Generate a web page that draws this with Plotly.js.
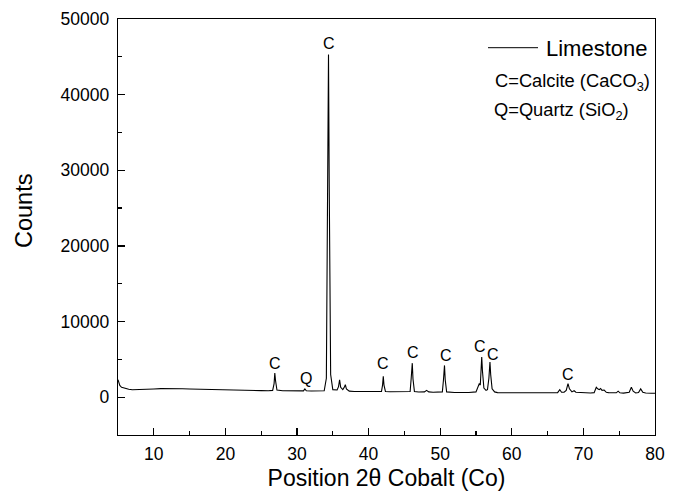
<!DOCTYPE html>
<html>
<head>
<meta charset="utf-8">
<script src="https://cdn.plot.ly/plotly-3.0.1.min.js"></script>
<style>html,body{margin:0;padding:0;background:#fff;}#chart{width:676px;height:495px;}</style>
</head>
<body>
<div id="chart"></div>
<script>
// 2θ positions (degrees) and intensities
const twoTheta = [5.0,5.1,5.25,5.5,6.0,6.5,7,8,9,10,11,12,13,14,15,16,17,18,19,20,21,22,23,24,25,26,
  26.6,26.8,26.9,27.0,27.2,28,29,30,30.9,31.1,31.3,32,33,33.8,34.1,34.3,34.4,34.5,34.7,35.0,
  35.6,35.8,35.95,36.1,36.4,36.6,36.75,36.9,37.3,38,39,40,41,41.8,41.95,42.05,42.15,42.35,43,44,45,
  45.8,45.95,46.1,46.2,46.4,47,47.8,48.1,48.4,49,50,50.3,50.45,50.6,50.7,50.9,52,53,54,
  55.0,55.3,55.45,55.6,55.7,55.8,55.9,56.1,56.4,56.6,56.8,56.95,57.05,57.25,57.6,58,59,60,62,64,66,
  66.4,66.7,66.95,67.3,67.6,67.85,68.05,68.4,68.7,68.95,69.5,70,71,71.5,71.8,72.0,72.2,72.4,72.6,72.9,
  73.2,73.5,74,74.6,74.85,75.1,75.6,76,76.4,76.7,76.95,77.3,77.7,78.0,78.3,78.7,79,79.5,80];
const counts = [2300,1850,1550,1300,1120,1040,990,1000,1020,1080,1130,1160,1150,1120,1080,1050,1020,990,960,940,920,900,890,880,870,860,
  900,1800,3200,2200,950,850,830,820,830,1100,840,810,800,850,2500,30000,45300,28000,3000,1000,
  950,1400,2300,1300,1000,1300,1650,1100,800,760,740,730,720,760,1600,2750,1600,760,710,700,690,
  750,2500,4500,2400,760,690,700,900,700,660,650,700,2200,4200,2300,700,620,610,620,
  700,1300,1770,1600,3000,5300,3500,1200,900,1000,2500,4650,3000,1100,700,600,580,580,570,570,570,
  600,980,650,650,900,1780,1100,700,850,650,600,580,560,600,1300,1100,1000,1150,900,950,
  650,600,560,580,800,580,540,550,650,1320,800,560,620,1100,650,560,520,520,520];

// Phase labels above the peaks
const peakX = [26.9, 31.2, 34.4, 42.05, 46.15, 50.75, 55.6, 57.4, 67.9];
const peakY = [4500, 2500, 46750, 4500, 5950, 5500, 6700, 5650, 3000];
const peakText = ['C','Q','C','C','C','C','C','C','C'];

const xTickVals = [10,20,30,40,50,60,70,80];
const yTickVals = [0,10000,20000,30000,40000,50000];
const yTickText = ['0','10000','20000','30000','40000','50000'];

const FONT = 'Liberation Sans, Arial, Helvetica, sans-serif';
const PL = 118, PR = 655, PT = 19, PB = 435;
const px = v => (v - PL) / (PR - PL);
const py = v => (PB - v) / (PB - PT);

const annotations = peakX.map((x, i) => ({
  x: x, y: peakY[i], xref: 'x', yref: 'y', text: peakText[i], showarrow: false,
  xanchor: 'center', yanchor: 'middle', font: {family: FONT, size: 16, color: '#000'}
}));
annotations.push(
  {xref: 'paper', yref: 'paper', x: px(544), y: py(48.5), text: 'Limestone', showarrow: false,
   xanchor: 'left', yanchor: 'middle', font: {family: FONT, size: 22, color: '#000'}},
  {xref: 'paper', yref: 'paper', x: px(493), y: py(82.5), text: 'C=Calcite (CaCO<sub>3</sub>)', showarrow: false,
   xanchor: 'left', yanchor: 'middle', font: {family: FONT, size: 18.3, color: '#000'}},
  {xref: 'paper', yref: 'paper', x: px(492), y: py(110.5), text: 'Q=Quartz (SiO<sub>2</sub>)', showarrow: false,
   xanchor: 'left', yanchor: 'middle', font: {family: FONT, size: 18.3, color: '#000'}},
  {xref: 'paper', yref: 'paper', x: px(24), y: py(211), text: 'Counts', showarrow: false, textangle: -90,
   xanchor: 'center', yanchor: 'middle', font: {family: FONT, size: 23.5, color: '#000'}}
);

const trace = {
  x: twoTheta, y: counts, type: 'scatter', mode: 'lines', name: 'Limestone',
  line: {color: '#000', width: 1.1}, showlegend: false
};

const layout = {
  width: 676, height: 495,
  margin: {l: PL, r: 676 - PR, t: PT, b: 495 - PB},
  paper_bgcolor: '#fff', plot_bgcolor: '#fff',
  font: {family: FONT, color: '#000'},
  showlegend: false,
  xaxis: {
    range: [5, 80], tickvals: xTickVals, ticks: 'inside', ticklen: 7, tickwidth: 1.3, tickcolor: '#000',
    minor: {dtick: 5, tick0: 5, ticks: 'inside', ticklen: 4, tickwidth: 1.3, tickcolor: '#000'},
    showline: true, linecolor: '#000', linewidth: 1.3, mirror: true, showgrid: false, zeroline: false,
    tickfont: {family: FONT, size: 17.5, color: '#000'}, ticklabelstandoff: 3,
    title: {text: 'Position 2θ Cobalt (Co)', font: {family: FONT, size: 23, color: '#000'}, standoff: 6}
  },
  yaxis: {
    range: [-5000, 50000], tickvals: yTickVals, ticktext: yTickText, ticks: 'inside', ticklen: 7, tickwidth: 1.3, tickcolor: '#000',
    minor: {dtick: 5000, tick0: 0, ticks: 'inside', ticklen: 4, tickwidth: 1.3, tickcolor: '#000'},
    showline: true, linecolor: '#000', linewidth: 1.3, mirror: true, showgrid: false, zeroline: false,
    tickfont: {family: FONT, size: 17.5, color: '#000'}, ticklabelstandoff: 4
  },
  shapes: [
    {type: 'line', xref: 'paper', yref: 'paper', x0: px(488), x1: px(538),
     y0: py(47.7), y1: py(47.7), line: {color: '#000', width: 1}}
  ],
  annotations: annotations
};

Plotly.newPlot('chart', [trace], layout, {displayModeBar: false, staticPlot: true});
</script>
</body>
</html>
